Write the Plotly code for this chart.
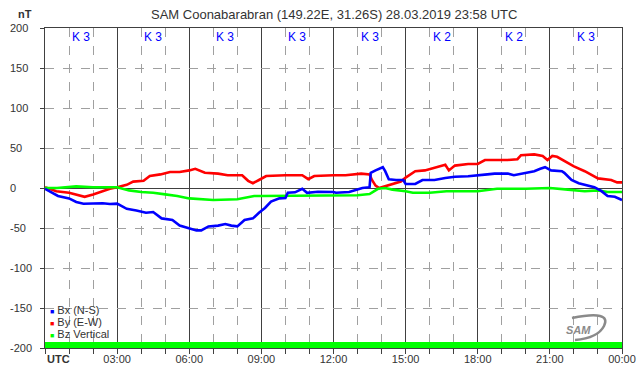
import plotly.graph_objects as go

# ---------------- data (hours UTC, nT) ----------------
bx_t = [0, 0.2, 0.54, 1.0, 1.3, 1.6, 2.0, 2.4, 2.7, 3.0, 3.4, 3.8, 4.2, 4.5, 4.85, 5.3, 5.6, 6.0,
        6.3, 6.5, 6.8, 7.2, 7.5, 7.75, 8.0, 8.3, 8.65, 8.9, 9.15, 9.4, 9.75, 10.0, 10.1, 10.4, 10.7,
        10.9, 11.35, 12.0, 12.1, 12.65, 12.95, 13.2, 13.5, 13.55, 13.75, 13.95, 14.05, 14.15, 14.3,
        14.6, 14.9, 15.0, 15.4, 15.7, 16.2, 16.65, 17.05, 17.6, 17.95, 18.4, 18.7, 19.25, 19.5,
        19.95, 20.35, 20.6, 20.8, 21.05, 21.5, 21.6, 21.9, 22.2, 22.45, 22.85, 23.15, 23.4, 23.7, 24.0]
bx_v = [-1, -4, -10, -13, -17.5, -19.6, -19.6, -19, -20, -19.6, -26, -28, -31, -30, -38, -40, -47, -50,
        -53, -53, -48, -47, -45, -47, -48, -40, -38, -31, -25, -17, -13, -12.5, -6, -5.4, -1,
        -6, -4.6, -5, -6, -5, -2, 0, 1, 19, 22, 25, 26, 21, 11,
        10, 10, 5, 5, 10, 10, 12.5, 14, 14.6, 16, 17, 18, 18, 16,
        19, 21, 24, 26, 22, 21, 19, 10, 6, 4, 1, -4, -10, -11, -15]

by_t = [0, 0.47, 1.0, 1.44, 1.65, 2.0, 2.4, 2.7, 3.0, 3.4, 3.67, 4.1, 4.36, 4.8, 5.2, 5.6, 6.0,
        6.25, 6.65, 7.2, 7.6, 8.2, 8.45, 8.65, 8.9, 9.2, 10.0, 10.7, 10.95, 11.2, 12.0,
        12.5, 13.15, 13.5, 13.6, 13.75, 13.9, 14.25, 14.6, 14.8, 15.0, 15.4, 15.8, 16.2, 16.65,
        16.8, 17.05, 17.6, 18.0, 18.3, 18.8, 19.25, 19.65, 19.8, 20.35, 20.7, 20.9, 21.1, 21.3,
        21.75, 22.0, 22.45, 22.7, 23.0, 23.55, 23.8, 24.0]
by_v = [1, -4, -6, -9.6, -11, -8, -4, -1, 1, 4, 8, 9, 15, 17, 20, 20, 22,
        24, 19, 18, 16, 16, 9, 6, 10, 15, 16, 16, 11, 15, 16,
        16, 18, 17, 10, 3, 0, 3, 6, 8, 13, 21, 22, 25, 29,
        22, 28, 30, 30, 35, 35, 35, 36, 41, 42, 40, 35, 40, 39,
        31, 27, 21, 17, 12, 10, 7, 7]

bz_t = [0, 0.5, 1.3, 2.0, 3.0, 3.5, 4.0, 4.5, 5.0, 5.5, 6.0, 7.0, 8.0, 8.7, 9.0, 10.0, 11.0, 12.0,
        13.0, 13.5, 13.85, 14.15, 14.45, 15.0, 15.3, 16.0, 16.7, 18.0, 18.3, 18.8, 20.0, 21.0,
        21.75, 22.45, 23.0, 23.4, 24.0]
bz_v = [0, 0, 2, 1, 1, -3, -5, -6, -8, -10, -13, -15, -14, -10, -10, -9.6, -9, -9,
        -9, -7.5, -1, 0, -2, -4, -6, -6, -4, -4, -3, -1, -1, 0,
        -2, -4, -3, -5, -5]

k_index = [3, 3, 3, 3, 3, 2, 2, 3]
k_start = [0, 3, 6, 9, 12, 15, 18, 21]
bar_height = [8, 8, 8, 8, 8, 8, 8, 8]

x_ticks = [0, 3, 6, 9, 12, 15, 18, 21, 24]
x_ticktext = ["", "03:00", "06:00", "09:00", "12:00", "15:00", "18:00", "21:00", "00:00"]
x_unit = "UTC"
y_ticks = [200, 150, 100, 50, 0, -50, -100, -150, -200]

series_names = ["Bx (N-S)", "By (E-W)", "Bz Vertical"]
series_colors = ["#0000ff", "#ff0000", "#00ff00"]

title_text = "SAM Coonabarabran (149.22E, 31.26S) 28.03.2019 23:58 UTC"

# ---------------- layout geometry ----------------
W, H = 642, 376
L, R, T, B = 45, 20, 28, 28
PW, PH = W - L - R, H - T - B
FONT = "Liberation Sans, Arial, sans-serif"
TXT = "#333333"
DARK = "#404040"


def px_x(p):
    return (p - L) / PW


def px_y(p):
    return (H - B - p) / PH


fig = go.Figure()

# bottom K bar
fig.add_trace(go.Bar(x=[s + 1.5 for s in k_start], y=bar_height, base=-200, width=3,
                     marker=dict(color="#00ff00", line=dict(width=0)),
                     showlegend=False, hoverinfo="skip"))

fig.add_trace(go.Scatter(x=by_t, y=by_v, mode="lines", line=dict(color=series_colors[1], width=2.6),
                         showlegend=False))
fig.add_trace(go.Scatter(x=bz_t, y=bz_v, mode="lines", line=dict(color=series_colors[2], width=2.6),
                         showlegend=False))
fig.add_trace(go.Scatter(x=bx_t, y=bx_v, mode="lines", line=dict(color=series_colors[0], width=2.6),
                         showlegend=False))

annotations = []
# K labels
for s, k in zip(k_start, k_index):
    annotations.append(dict(x=s + 1.5, y=px_y(37), xref="x", yref="paper", text=f"K {k}",
                            showarrow=False, font=dict(family=FONT, size=12, color="#0000ff"),
                            xanchor="center", yanchor="middle"))
# y tick labels (left-aligned as in reference)
for v in y_ticks:
    annotations.append(dict(x=px_x(8), y=v, xref="paper", yref="y", text=str(v), showarrow=False,
                            font=dict(family=FONT, size=11, color=TXT), xanchor="left", yanchor="middle"))
# x unit label (left aligned at the axis origin)
annotations.append(dict(x=0, y=px_y(359), xref="x", yref="paper", text=f"<b>{x_unit}</b>",
                        showarrow=False, font=dict(family=FONT, size=11, color=TXT),
                        xanchor="left", yanchor="middle"))
# unit
annotations.append(dict(x=px_x(16), y=px_y(14), xref="paper", yref="paper", text="<b>nT</b>",
                        showarrow=False, font=dict(family=FONT, size=11, color=TXT),
                        xanchor="left", yanchor="middle"))
# title
annotations.append(dict(x=0.5, y=px_y(14), xref="paper", yref="paper", text=title_text,
                        showarrow=False, font=dict(family=FONT, size=13, color=TXT),
                        xanchor="center", yanchor="middle"))
# legend
for i, (n, c) in enumerate(zip(series_names, series_colors)):
    annotations.append(dict(x=px_x(48), y=px_y(310 + 12 * i), xref="paper", yref="paper",
                            text=f'<span style="color:{c};font-size:7px">■</span> {n}',
                            showarrow=False, font=dict(family=FONT, size=11, color=TXT),
                            xanchor="left", yanchor="middle"))
# logo
annotations.append(dict(x=px_x(578), y=px_y(330), xref="paper", yref="paper",
                        text="<b><i>SAM</i></b>", showarrow=False,
                        font=dict(family=FONT, size=11, color="#8a8a8a"),
                        xanchor="center", yanchor="middle"))

shapes = [dict(type="path", xref="paper", yref="paper",
               path=(f"M {px_x(572)} {px_y(318)} Q {px_x(612)} {px_y(310)} {px_x(604)} {px_y(326)} "
                     f"Q {px_x(598)} {px_y(338)} {px_x(575)} {px_y(340)}"),
               line=dict(color="#8a8a8a", width=2.5))]

fig.update_layout(
    width=W, height=H, margin=dict(l=L, r=R, t=T, b=B, autoexpand=False),
    paper_bgcolor="white", plot_bgcolor="white",
    showlegend=False, bargap=0,
    annotations=annotations, shapes=shapes,
    font=dict(family=FONT, size=11, color=TXT),
)
fig.update_xaxes(range=[0, 24], tickvals=x_ticks, ticktext=x_ticktext, automargin=False,
                 showgrid=True, gridcolor=DARK, gridwidth=1,
                 showline=True, linecolor=DARK, linewidth=1, mirror=True,
                 ticks="outside", ticklen=5, tickcolor=DARK, ticklabelstandoff=-4,
                 tickfont=dict(family=FONT, size=11, color=TXT),
                 minor=dict(dtick=1, tick0=0, showgrid=True, gridcolor="#a0a0a0", griddash="dash",
                            gridwidth=1, ticks="outside", ticklen=5, tickcolor=DARK),
                 zeroline=False, fixedrange=True)
fig.update_yaxes(range=[-200, 200], tickvals=y_ticks, showticklabels=False, automargin=False,
                 showgrid=True, gridcolor="#a0a0a0", griddash="dash", gridwidth=1,
                 zeroline=True, zerolinecolor=DARK, zerolinewidth=1,
                 showline=True, linecolor=DARK, linewidth=1, mirror=True,
                 ticks="outside", ticklen=4, tickcolor=DARK, fixedrange=True)

fig.write_html("out.html", config={"displayModeBar": False},
               post_script="document.body.style.margin='0';document.body.style.overflow='hidden';")
